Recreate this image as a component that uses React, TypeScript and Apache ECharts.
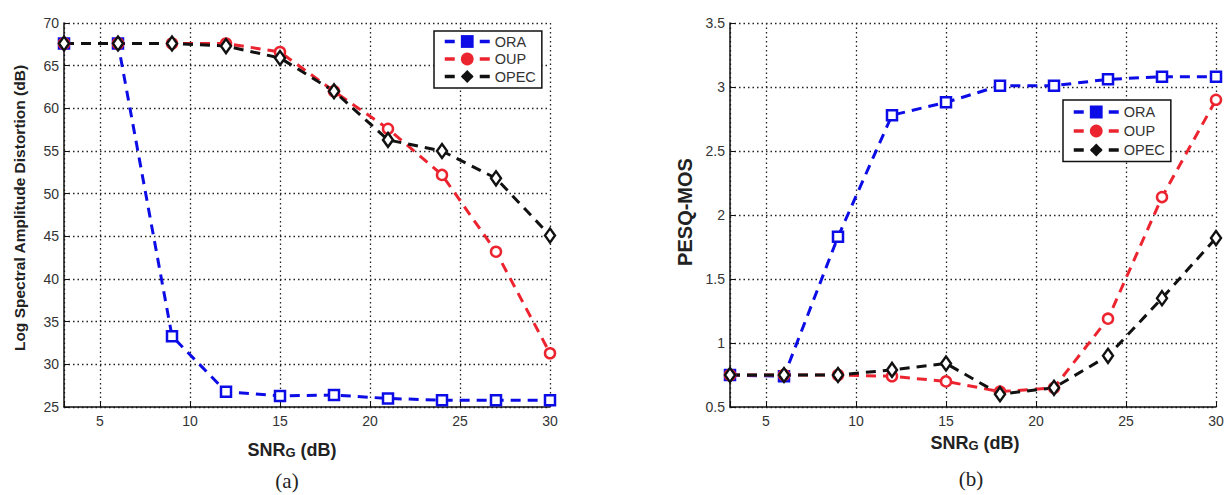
import React, { useEffect, useRef } from 'react';
import * as echarts from 'echarts';

const snr = [3, 6, 9, 12, 15, 18, 21, 24, 27, 30];
const lsdORA = [67.6, 67.6, 33.3, 26.8, 26.3, 26.4, 26.0, 25.8, 25.8, 25.8];
const lsdOUP = [67.6, 67.6, 67.6, 67.6, 66.6, 62.0, 57.6, 52.2, 43.2, 31.3];
const lsdOPEC = [67.6, 67.6, 67.6, 67.3, 65.9, 62.0, 56.3, 55.0, 51.8, 45.1];
const pesqORA = [0.75, 0.74, 1.83, 2.78, 2.88, 3.01, 3.01, 3.06, 3.08, 3.08];
const pesqOUP = [0.75, 0.75, 0.75, 0.74, 0.70, 0.62, 0.65, 1.19, 2.14, 2.90];
const pesqOPEC = [0.75, 0.75, 0.75, 0.79, 0.84, 0.60, 0.65, 0.90, 1.35, 1.82];
const methodNames = ['ORA', 'OUP', 'OPEC'];

const FONT = '"Liberation Sans", Arial, sans-serif';
const SERIF = '"Liberation Serif", "Times New Roman", serif';
const BLUE = '#0c0ce6';
const RED = '#ec2430';
const BLACK = '#111111';
const TEXT = '#333333';

const styles: Record<string, { color: string; symbol: string; size: number | number[] }> = {
  ORA: { color: BLUE, symbol: 'rect', size: 10 },
  OUP: { color: RED, symbol: 'circle', size: 10 },
  OPEC: { color: BLACK, symbol: 'diamond', size: [10, 14] },
};

function makeSeries(name: string, values: number[], idx: number) {
  const s = styles[name];
  return {
    type: 'line',
    name,
    xAxisIndex: idx,
    yAxisIndex: idx,
    data: snr.map((x, i) => [x, values[i]]),
    symbol: s.symbol,
    symbolSize: s.size,
    showAllSymbol: true,
    lineStyle: { color: s.color, width: 3, type: [10, 7] },
    itemStyle: { color: '#ffffff', borderColor: s.color, borderWidth: 2.5 },
    emphasis: { disabled: true },
  };
}

const gridLine = { show: true, lineStyle: { color: '#222', width: 1.3, type: [1.5, 3] } };

function xAxisDef(idx: number) {
  return {
    type: 'value',
    gridIndex: idx,
    min: 3,
    max: 30,
    axisLine: { show: true, onZero: false, lineStyle: { color: BLACK, width: 1.5 } },
    axisTick: { show: true, inside: true, length: 5, lineStyle: { color: BLACK } },
    axisLabel: {
      color: TEXT,
      fontSize: 14,
      fontFamily: FONT,
      margin: 7,
      formatter: (v: number) => (v % 5 === 0 ? String(v) : ''),
    },
    splitLine: gridLine,
  };
}

function yAxisDef(idx: number, min: number, max: number, interval: number) {
  return {
    type: 'value',
    gridIndex: idx,
    min,
    max,
    interval,
    axisLine: { show: true, onZero: false, lineStyle: { color: BLACK, width: 1.5 } },
    axisTick: { show: true, inside: true, length: 5, lineStyle: { color: BLACK } },
    axisLabel: { color: TEXT, fontSize: 14, fontFamily: FONT, margin: 5 },
    splitLine: gridLine,
  };
}

function legendDef(left: number, top: number, gap: number, padTop: number) {
  return {
    left,
    top,
    orient: 'vertical',
    backgroundColor: '#ffffff',
    borderColor: BLACK,
    borderWidth: 1.5,
    borderRadius: 0,
    padding: [padTop, 6, 4, 9],
    itemGap: gap,
    itemWidth: 45,
    itemHeight: 16,
    selectedMode: false,
    textStyle: { color: TEXT, fontSize: 14.5, fontFamily: FONT },
    data: methodNames.map((n) => ({
      name: n,
      itemStyle: { color: styles[n].color, borderColor: styles[n].color, borderWidth: 0 },
      lineStyle: { color: styles[n].color, width: 3.5, type: [10, 7.5] },
    })),
  };
}

function snrLabel(x: number, y: number) {
  return {
    type: 'text',
    x,
    y,
    style: {
      text: '{a|SNR}{b|G}{a| (dB)}',
      align: 'center',
      verticalAlign: 'middle',
      rich: {
        a: { fontSize: 18, fontWeight: 'bold', fontFamily: FONT, fill: '#222' },
        b: { fontSize: 13, fontWeight: 'bold', fontFamily: FONT, fill: '#222', padding: [4, 0, 0, 0] },
      },
    },
  };
}

function caption(text: string, x: number, y: number) {
  return {
    type: 'text',
    x,
    y,
    style: {
      text,
      fontSize: 21,
      fontFamily: SERIF,
      fill: '#222',
      align: 'center',
      verticalAlign: 'middle',
    },
  };
}

export default function App() {
  const ref = useRef<HTMLDivElement>(null);
  useEffect(() => {
    if (!ref.current) return;
    const chart = echarts.init(ref.current, undefined, { renderer: 'svg' });
    chart.setOption({
      animation: false,
      backgroundColor: '#ffffff',
      grid: [
        { left: 64, top: 23, width: 486, height: 384 },
        { left: 730, top: 23, width: 486, height: 384 },
      ],
      xAxis: [xAxisDef(0), xAxisDef(1)],
      yAxis: [yAxisDef(0, 25, 70, 5), yAxisDef(1, 0.5, 3.5, 0.5)],
      legend: [legendDef(434, 31, 2.5, 3), legendDef(1063, 100, 4, 4.5)],
      series: [
        makeSeries('ORA', lsdORA, 0),
        makeSeries('OUP', lsdOUP, 0),
        makeSeries('OPEC', lsdOPEC, 0),
        makeSeries('ORA', pesqORA, 1),
        makeSeries('OUP', pesqOUP, 1),
        makeSeries('OPEC', pesqOPEC, 1),
      ],
      graphic: [
        {
          type: 'text',
          x: 19,
          y: 208,
          rotation: Math.PI / 2,
          style: {
            text: 'Log Spectral Amplitude Distortion (dB)',
            fontSize: 15.5,
            fontWeight: 'bold',
            fontFamily: FONT,
            fill: '#222',
            align: 'center',
            verticalAlign: 'middle',
          },
        },
        {
          type: 'text',
          x: 685,
          y: 212,
          rotation: Math.PI / 2,
          style: {
            text: 'PESQ-MOS',
            fontSize: 20,
            fontWeight: 'bold',
            fontFamily: FONT,
            fill: '#222',
            align: 'center',
            verticalAlign: 'middle',
          },
        },
        snrLabel(292, 450),
        snrLabel(975, 443),
        caption('(a)', 287, 481),
        caption('(b)', 971, 479),
      ],
    });
    return () => chart.dispose();
  }, []);
  return (
    <div
      ref={ref}
      style={{ position: 'fixed', left: 0, top: 0, width: 1228, height: 495, background: '#fff' }}
    />
  );
}
